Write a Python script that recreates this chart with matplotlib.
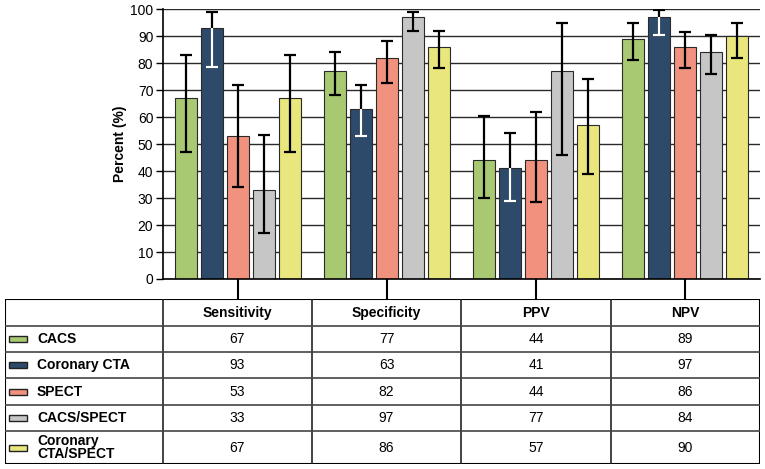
import numpy as np
import matplotlib.pyplot as plt
from matplotlib.patches import Rectangle

plt.rcParams['font.family'] = ['Liberation Sans', 'DejaVu Sans']

# data
metrics = ['Sensitivity', 'Specificity', 'PPV', 'NPV']
series = ['CACS', 'Coronary CTA', 'SPECT', 'CACS/SPECT', 'Coronary\nCTA/SPECT']
colors = ['#A8C972', '#2D4A6B', '#F1927E', '#C6C6C6', '#E8E67C']

values = [
    [67, 77, 44, 89],
    [93, 63, 41, 97],
    [53, 82, 44, 86],
    [33, 97, 77, 84],
    [67, 86, 57, 90],
]
lower = [
    [47, 68, 30, 81],
    [78.5, 53, 29, 90.5],
    [34, 72.7, 28.5, 78],
    [17, 92, 46, 76],
    [47, 78, 39, 82],
]
upper = [
    [83, 84, 60.5, 95],
    [99, 72, 54, 99.6],
    [72, 88, 62, 91.5],
    [53.5, 99, 95, 90.3],
    [83, 92, 74, 95],
]

fig = plt.figure(figsize=(7.65, 4.69), dpi=100)
ax = fig.add_axes([163/765, 1 - 279/469, 597/765, 270/469])

x = np.arange(len(metrics))
pitch = 0.174
width = 0.148

for i, name in enumerate(series):
    v = np.array(values[i])
    lo = np.array(lower[i])
    hi = np.array(upper[i])
    xs = x + (i - 2) * pitch
    ax.bar(xs, v, width, color=colors[i], edgecolor='#2a2a2a', linewidth=0.8, zorder=2)
    ax.errorbar(xs, v, yerr=[v - lo, hi - v], fmt='none', ecolor='black',
                elinewidth=1.6, capsize=4.3, capthick=1.6, zorder=3)
    if i == 1:
        # white part of the whisker inside the dark bar
        cw = 0.04
        ax.vlines(xs, lo, v, color='white', linewidth=1.6, zorder=4)
        ax.hlines(lo, xs - cw, xs + cw, color='white', linewidth=1.6, zorder=4)

ax.set_xlim(-0.5, 3.5)
ax.set_ylim(0, 100)
ax.set_yticks(np.arange(0, 101, 10))
ax.yaxis.grid(True, color='#2a2a2a', linewidth=1.0, zorder=0)
ax.set_axisbelow(True)
ax.set_xticks(x)
ax.set_xticklabels([])
ax.tick_params(axis='x', length=14.5, width=1.5, direction='out', color='black')
ax.tick_params(axis='y', length=5, width=1.0, labelsize=10, pad=2)
for s in ['top', 'right']:
    ax.spines[s].set_visible(False)
ax.spines['left'].set_linewidth(1.2)
ax.spines['bottom'].set_linewidth(1.2)
ax.set_ylabel('Percent (%)', fontsize=10, fontweight='bold', labelpad=2)

# table below the chart
tab = fig.add_axes([5/765, 5/469, 755/765, 165/469])
tab.set_xlim(0, 755)
tab.set_ylim(165, 0)
tab.axis('off')
col_edges = [0, 158, 307, 456, 606, 755]
row_edges = [0, 27, 53, 79, 106, 132, 165]
for cx in col_edges[1:-1]:
    tab.plot([cx, cx], [0, 165], color='#222222', linewidth=1.2)
for ry in row_edges[1:-1]:
    tab.plot([0, 755], [ry, ry], color='#444444', linewidth=1.2)
tab.add_patch(Rectangle((0, 0), 755, 165, fill=False, edgecolor='black', linewidth=1.5))

for j, m in enumerate(metrics):
    cx = (col_edges[j + 1] + col_edges[j + 2]) / 2
    tab.text(cx, row_edges[0] + 13.5, m, ha='center', va='center',
             fontsize=10, fontweight='bold')
for i, name in enumerate(series):
    cy = (row_edges[i + 1] + row_edges[i + 2]) / 2
    tab.add_patch(Rectangle((4, cy - 3), 18, 6, facecolor=colors[i],
                            edgecolor='#222222', linewidth=1.0))
    tab.text(32, cy, name, ha='left', va='center', fontsize=10,
             fontweight='bold', linespacing=0.95)
    for j in range(len(metrics)):
        cx = (col_edges[j + 1] + col_edges[j + 2]) / 2
        tab.text(cx, cy, str(values[i][j]), ha='center', va='center', fontsize=10)

fig.savefig('out.png', dpi=100)
